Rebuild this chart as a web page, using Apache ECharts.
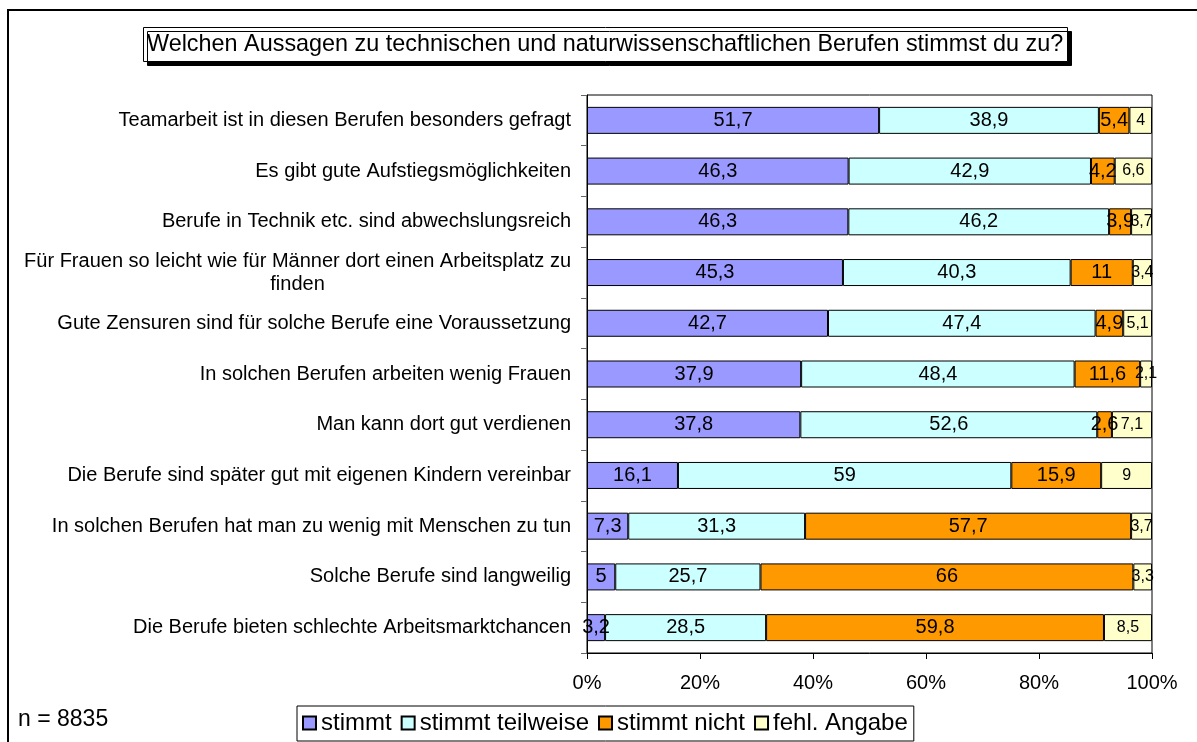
<!DOCTYPE html>
<html>
<head>
<meta charset="utf-8">
<script src="https://cdn.jsdelivr.net/npm/echarts@6/dist/echarts.min.js"></script>
<style>
  html, body { margin: 0; padding: 0; background: #fff; }
  #chart { width: 1197px; height: 742px; }
</style>
</head>
<body>
<div id="chart"></div>
<script>
// Kategorien von oben nach unten
var categories = [
    'Teamarbeit ist in diesen Berufen besonders gefragt',
    'Es gibt gute Aufstiegsmöglichkeiten',
    'Berufe in Technik etc. sind abwechslungsreich',
    'Für Frauen so leicht wie für Männer dort einen Arbeitsplatz zu\nfinden',
    'Gute Zensuren sind für solche Berufe eine Voraussetzung',
    'In solchen Berufen arbeiten wenig Frauen',
    'Man kann dort gut verdienen',
    'Die Berufe sind später gut mit eigenen Kindern vereinbar',
    'In solchen Berufen hat man zu wenig mit Menschen zu tun',
    'Solche Berufe sind langweilig',
    'Die Berufe bieten schlechte Arbeitsmarktchancen'
];
var stimmt      = [51.7, 46.3, 46.3, 45.3, 42.7, 37.9, 37.8, 16.1, 7.3, 5, 3.2];
var teilweise   = [38.9, 42.9, 46.2, 40.3, 47.4, 48.4, 52.6, 59, 31.3, 25.7, 28.5];
var nicht       = [5.4, 4.2, 3.9, 11, 4.9, 11.6, 2.6, 15.9, 57.7, 66, 59.8];
var fehlt       = [4, 6.6, 3.7, 3.4, 5.1, 2.1, 7.1, 9, 3.7, 3.3, 8.5];
var seriesNames = ['stimmt', 'stimmt teilweise', 'stimmt nicht', 'fehl. Angabe'];
var xTicks      = [0, 20, 40, 60, 80, 100];

var colors = ['#9999ff', '#ccffff', '#ff9900', '#ffffcc'];
var font = 'Liberation Sans, Arial, sans-serif';
var raw = [stimmt, teilweise, nicht, fehlt];

// 100%-Stapel: jede Zeile auf ihre Summe normieren
var rowSum = categories.map(function (c, i) {
    return stimmt[i] + teilweise[i] + nicht[i] + fehlt[i];
});

var series = raw.map(function (arr, s) {
    return {
        name: seriesNames[s],
        type: 'bar',
        stack: 'total',
        barWidth: 27,
        itemStyle: { color: colors[s], borderColor: '#000', borderWidth: 1 },
        label: {
            show: true,
            position: 'inside',
            color: '#000',
            fontFamily: font,
            fontSize: s === 3 ? 16 : 20,
            formatter: function (p) {
                return String(arr[p.dataIndex]).replace('.', ',');
            }
        },
        data: arr.map(function (v, i) { return v / rowSum[i] * 100; })
    };
});

var myChart = echarts.init(document.getElementById('chart'));
var option = {
    animation: false,
    title: {
        text: 'Welchen Aussagen zu technischen und naturwissenschaftlichen Berufen stimmst du zu?',
        left: 143,
        top: 27,
        padding: [6, 5, 6, 4],
        backgroundColor: '#fff',
        borderColor: '#000',
        borderWidth: 1,
        shadowColor: '#000',
        shadowOffsetX: 4,
        shadowOffsetY: 4,
        shadowBlur: 0,
        textStyle: { fontFamily: font, fontSize: 23.4, fontWeight: 'normal', color: '#000' }
    },
    legend: {
        data: seriesNames,
        left: 297,
        top: 706,
        padding: [5, 6, 6, 5],
        itemWidth: 13,
        itemHeight: 13,
        itemGap: 9,
        icon: 'rect',
        borderColor: '#000',
        borderWidth: 1,
        textStyle: { fontFamily: font, fontSize: 24, color: '#000' }
    },
    grid: { left: 587, right: 45, top: 95, bottom: 89, show: true, borderColor: '#000', borderWidth: 1 },
    xAxis: {
        type: 'value',
        min: 0,
        max: 100,
        interval: 20,
        splitLine: { show: false },
        axisLine: { show: true, lineStyle: { color: '#000' } },
        axisTick: { show: true, length: 6, lineStyle: { color: '#000' } },
        axisLabel: {
            margin: 20,
            fontFamily: font,
            fontSize: 20,
            color: '#000',
            formatter: function (v) { return xTicks.indexOf(v) >= 0 ? v + '%' : ''; }
        }
    },
    yAxis: {
        type: 'category',
        inverse: true,
        data: categories,
        axisLine: { show: true, lineStyle: { color: '#000' } },
        axisTick: { show: true, length: 6, lineStyle: { color: '#666' } },
        axisLabel: {
            margin: 16,
            fontFamily: font,
            fontSize: 20,
            color: '#000',
            lineHeight: 23,
            formatter: function (v) {
                return v.split('\n').map(function (l) { return '{c|' + l + '}'; }).join('\n');
            },
            rich: { c: { align: 'center', fontFamily: font, fontSize: 20, color: '#000', lineHeight: 23 } }
        }
    },
    graphic: [
        {
            type: 'rect',
            shape: { x: 8, y: 10, width: 1300, height: 900 },
            style: { fill: 'none', stroke: '#000', lineWidth: 2 },
            silent: true
        },
        {
            type: 'text',
            left: 18,
            top: 708,
            style: { text: 'n = 8835', fontFamily: font, fontSize: 23, fill: '#000' }
        }
    ],
    series: series
};
myChart.setOption(option);
</script>
</body>
</html>
